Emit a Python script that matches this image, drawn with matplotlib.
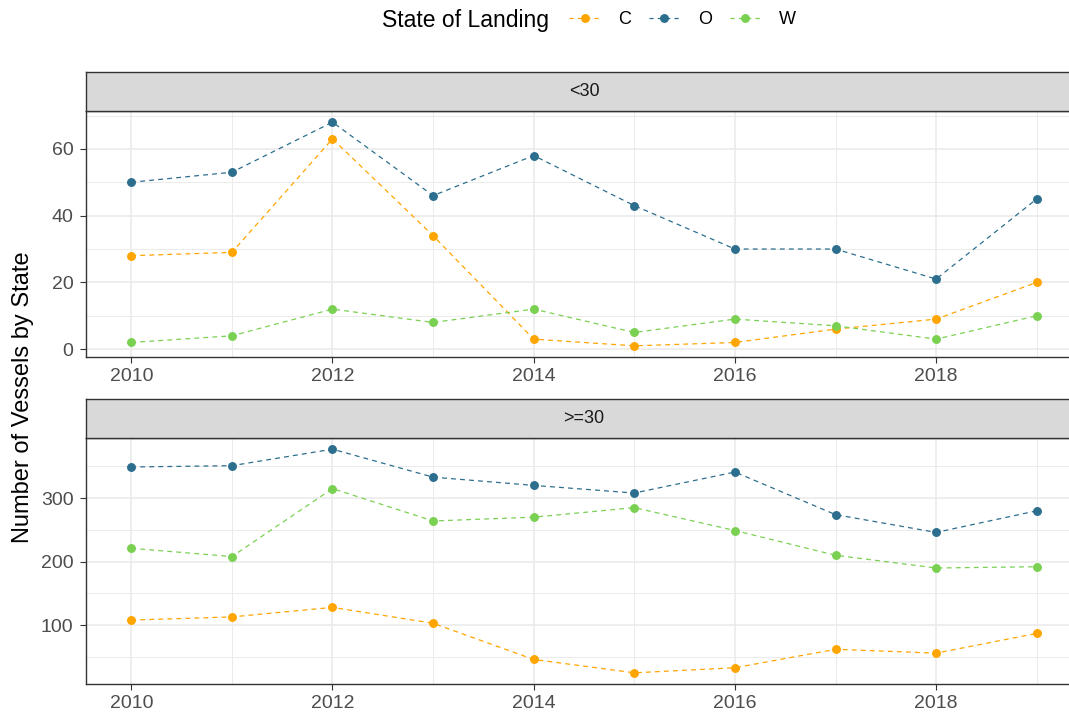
import numpy as np
import matplotlib
matplotlib.use('Agg')
import matplotlib.pyplot as plt
from matplotlib.lines import Line2D

plt.rcParams['font.family'] = ['Liberation Sans', 'DejaVu Sans']
plt.rcParams['lines.scale_dashes'] = False

years = [2010, 2011, 2012, 2013, 2014, 2015, 2016, 2017, 2018, 2019]
states = ['C', 'O', 'W']
colors = {'C': '#FFA500', 'O': '#2C6E8E', 'W': '#7AD151'}

# vessels < 30
small_C = [28, 29, 63, 34, 3, 1, 2, 6, 9, 20]
small_O = [50, 53, 68, 46, 58, 43, 30, 30, 21, 45]
small_W = [2, 4, 12, 8, 12, 5, 9, 7, 3, 10]

# vessels >= 30
large_C = [108, 113, 128, 103, 46, 25, 33, 62, 56, 87]
large_O = [349, 351, 377, 333, 320, 308, 341, 274, 246, 280]
large_W = [221, 208, 315, 264, 270, 285, 249, 210, 190, 192]

panels = [
    ('<30', {'C': small_C, 'O': small_O, 'W': small_W}, [0, 20, 40, 60], [10, 30, 50, 70]),
    ('>=30', {'C': large_C, 'O': large_O, 'W': large_W}, [100, 200, 300], [50, 150, 250, 350]),
]

W, H = 1069, 715
fig = plt.figure(figsize=(W / 100, H / 100), dpi=100)

def fx(px):
    return px / W

def fy(py):
    return 1 - py / H

left, right = 86, 1082
# (strip top, panel top, panel bottom) in pixels
boxes = [(72, 111, 357), (399, 438, 684)]

dark = '#333333'
for (label, data, majors, minors), (st, pt, pb) in zip(panels, boxes):
    ax = fig.add_axes([fx(left), fy(pb), fx(right - left), (pb - pt) / H])
    allv = np.concatenate([data[s] for s in states])
    lo, hi = allv.min(), allv.max()
    pad = 0.05 * (hi - lo)
    ax.set_ylim(lo - pad, hi + pad)
    ax.set_xlim(2010 - 0.45, 2019 + 0.45)
    ax.set_xticks([2010, 2012, 2014, 2016, 2018])
    ax.set_xticks([2011, 2013, 2015, 2017, 2019], minor=True)
    ax.set_yticks(majors)
    ax.set_yticks(minors, minor=True)
    ax.grid(which='major', color='#EBEBEB', lw=1.2)
    ax.grid(which='minor', color='#EBEBEB', lw=0.7)
    ax.set_axisbelow(True)
    ax.tick_params(which='major', length=4, width=0.8, color=dark,
                   labelsize=14, labelcolor='#4D4D4D', pad=5)
    ax.tick_params(axis='x', which='major', pad=4)
    ax.tick_params(which='minor', length=0)
    for sp in ax.spines.values():
        sp.set_color(dark)
        sp.set_linewidth(1.0)
    for s in states:
        ax.plot(years, data[s], color=colors[s], lw=0.9, ls='--', dashes=(3.5, 3),
                marker='o', ms=5.4, zorder=3)

    # facet strip
    sax = fig.add_axes([fx(left), fy(pt), fx(right - left), (pt - st) / H])
    sax.set_xlim(0, 1)
    sax.set_ylim(0, 1)
    sax.set_xticks([])
    sax.set_yticks([])
    sax.set_facecolor('#D9D9D9')
    for sp in sax.spines.values():
        sp.set_color(dark)
        sp.set_linewidth(1.0)
    sax.text(0.5, 0.5, label, ha='center', va='center', fontsize=13, color='#1A1A1A')

fig.text(fx(23), fy(397), 'Number of Vessels by State', rotation=90,
         ha='center', va='center', fontsize=17, color='black')

# legend on top
fig.text(fx(382), fy(20), 'State of Landing', ha='left', va='center',
         fontsize=16.5, color='black')
handles = [Line2D([0], [0], color=colors[s], lw=0.9, ls='--', dashes=(3, 3),
                  marker='o', ms=5.4) for s in states]
fig.legend(handles, states, loc='center left', bbox_to_anchor=(fx(562), fy(20)),
           ncol=3, frameon=False, fontsize=13, handlelength=1.7,
           handletextpad=1.0, columnspacing=1.0, borderaxespad=0)

fig.savefig('out.png', dpi=100)
